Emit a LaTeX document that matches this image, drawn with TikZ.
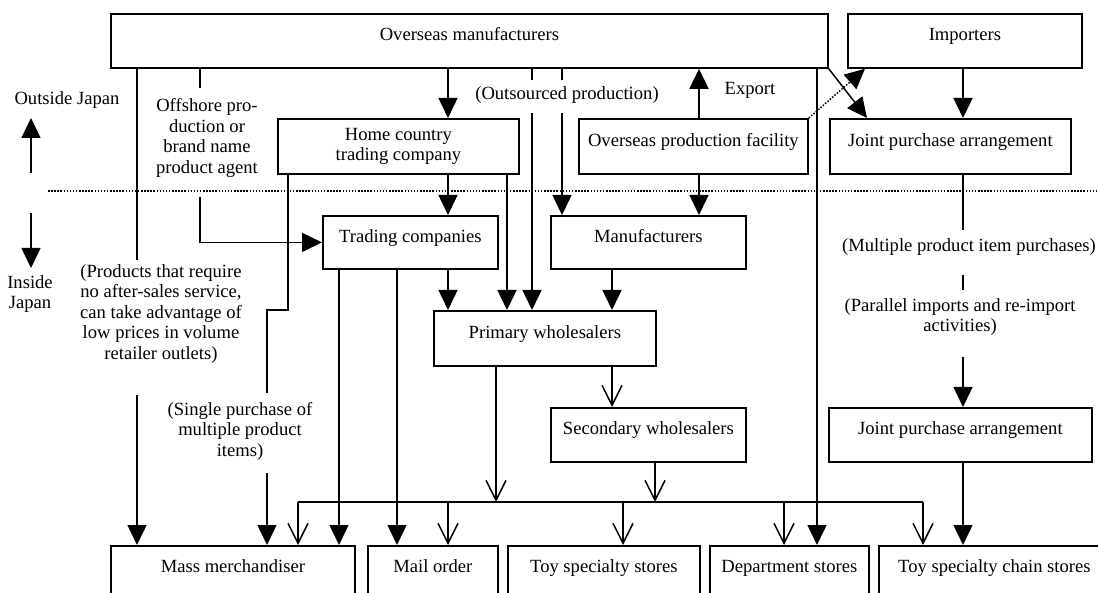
\documentclass[tikz,border=0pt]{standalone}
\usepackage{fontspec}
\setmainfont{Liberation Serif}
\usetikzlibrary{arrows.meta}
\begin{document}
\begin{tikzpicture}[x=1pt,y=-1pt,
  every node/.style={font=\fontsize{18.6pt}{20.5pt}\selectfont},
  bx/.style={draw, line width=1.8pt, anchor=north west, inner sep=0pt, align=center, text height=9pt, text depth=9pt},
  bxx/.style={draw, line width=1.8pt, anchor=north west, inner sep=0pt, align=center},
  txt/.style={inner sep=0pt, align=center},
  ln/.style={line width=1.5pt},
  fa/.style={line width=1.5pt, -{Triangle[width=19pt,length=20pt]}},
  oa/.style={line width=1.5pt, -{Straight Barb[width=20pt,length=20pt]}},
  sep/.style={line width=1.3pt, dash pattern=on 1.5pt off 1.6pt},
]
\path[use as bounding box] (0,0) rectangle (1098,593);

% boxes
\node[bx, minimum width=717pt, minimum height=54pt] (ov) at (110,13) {Overseas manufacturers};
\node[bx, minimum width=234pt, minimum height=54pt] (imp) at (847,13) {Importers};
\node[bxx, minimum width=241pt, minimum height=55pt] (home) at (277,118) {Home country\\trading company};
\node[bx, minimum width=229pt, minimum height=55pt] (fac) at (578,118) {Overseas production facility};
\node[bx, minimum width=241pt, minimum height=55pt] (jp1) at (829,118) {Joint purchase arrangement};
\node[bx, minimum width=175pt, minimum height=53pt] (trad) at (322,215) {Trading companies};
\node[bx, minimum width=195pt, minimum height=53pt] (manu) at (550,215) {Manufacturers};
\node[bx, minimum width=222pt, minimum height=55pt] (prim) at (433,310) {Primary wholesalers};
\node[bx, minimum width=195pt, minimum height=54pt] (sec) at (550,407) {Secondary wholesalers};
\node[bx, minimum width=263pt, minimum height=54pt] (jp2) at (828,407) {Joint purchase arrangement};
\node[bx, minimum width=244pt, minimum height=53pt] (mass) at (110,545) {Mass merchandiser};
\node[bx, minimum width=130pt, minimum height=53pt] (mail) at (367,545) {Mail order};
\node[bx, minimum width=192pt, minimum height=53pt] (toy) at (507,545) {Toy specialty stores};
\node[bx, minimum width=159pt, minimum height=53pt] (dept) at (709,545) {Department stores};
\node[bx, minimum width=231pt, minimum height=53pt] (chain) at (878,545) {Toy specialty chain stores};

% free labels
\node[txt] (outj) at (67,100) {Outside Japan};
\node[txt] (insj) at (30,294) {Inside\\Japan};
\node[txt] (offs) at (207,138) {Offshore pro-\\duction or\\brand name\\product agent};
\node[txt] (outs) at (567,95) {(Outsourced production)};
\node[txt] (expo) at (750,90) {Export};
\node[txt] (prod) at (161,314) {(Products that require\\no after-sales service,\\can take advantage of\\low prices in volume\\retailer outlets)};
\node[txt] (single) at (240,431) {(Single purchase of\\multiple product\\items)};
\node[txt] (multi) at (969,247) {(Multiple product item purchases)};
\node[txt] (paral) at (960,317) {(Parallel imports and re-import\\activities)};

% separator and side arrows
\draw[sep] (48,191) -- (1097,191);
\draw[fa] (31,173) -- (31,118);
\draw[fa] (31,213) -- (31,268);

% rails
\foreach \x in {137,200,267,288,298,339,397,448,496,507,532,562,612,623,655,699,784,817,923,963}
  \coordinate (r\x) at (\x,0);
\coordinate (busL) at (298,502);
\coordinate (busR) at (923,502);

% connectors
\draw[ln] (ov.south -| r137) -- (137,260);
\draw[fa] (137,395) -- (mass.north -| r137);
\draw[ln] (ov.south -| r200) -- (200,88);
\draw[fa] (200,197) |- (trad.west);
\draw[fa] (ov.south -| r448) -- (home.north -| r448);
\draw[fa] (home.south -| r448) -- (trad.north -| r448);
\draw[fa] (trad.south -| r448) -- (prim.north -| r448);
\draw[ln] (home.south -| r288) -- (288,310) -- (267,310) -- (267,393);
\draw[fa] (267,473) -- (mass.north -| r267);
\draw[fa] (trad.south -| r339) -- (mass.north -| r339);
\draw[fa] (trad.south -| r397) -- (mail.north -| r397);
\draw[fa] (home.south -| r507) -- (prim.north -| r507);
\draw[ln] (ov.south -| r532) -- (532,80);
\draw[fa] (532,113) -- (prim.north -| r532);
\draw[ln] (ov.south -| r562) -- (562,80);
\draw[fa] (562,113) -- (manu.north -| r562);
\draw[fa] (fac.north -| r699) -- (ov.south -| r699);
\draw[fa] (fac.south -| r699) -- (manu.north -| r699);
\draw[fa] (manu.south -| r612) -- (prim.north -| r612);
\draw[oa] (prim.south -| r612) -- (sec.north -| r612);

\draw[ln] (busL) -- (busR);
\draw[oa] (prim.south -| r496) -- (busL -| r496);
\draw[oa] (sec.south -| r655) -- (busL -| r655);
\draw[oa] (busL) -- (mass.north -| busL);
\draw[oa] (busL -| r448) -- (mail.north -| r448);
\draw[oa] (busL -| r623) -- (toy.north -| r623);
\draw[oa] (busL -| r784) -- (dept.north -| r784);
\draw[oa] (busR) -- (chain.north -| busR);

\draw[fa] (ov.south -| r817) -- (dept.north -| r817);
\draw[fa] (ov.south east) -- ([xshift=38pt]jp1.north west);
\draw[fa, dash pattern=on 1.5pt off 1.6pt] (fac.north east) -- ([xshift=18pt]imp.south west);
\draw[fa] (imp.south -| r963) -- (jp1.north -| r963);
\draw[ln] (jp1.south -| r963) -- (963,230);
\draw[ln] (963,275) -- (963,290);
\draw[fa] (963,357) -- (jp2.north -| r963);
\draw[fa] (jp2.south -| r963) -- (chain.north -| r963);
\end{tikzpicture}
\end{document}
